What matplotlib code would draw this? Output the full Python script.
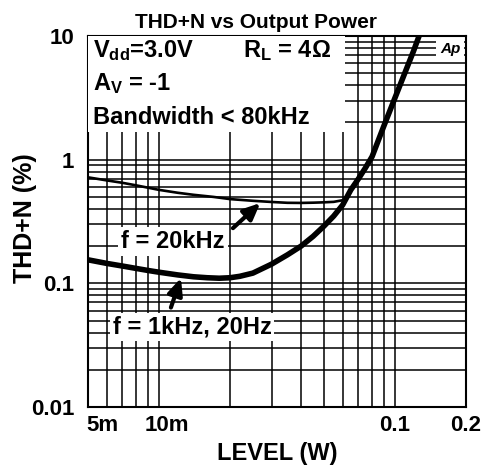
import matplotlib
matplotlib.use("Agg")
import matplotlib.pyplot as plt
import matplotlib.transforms as mtransforms
from matplotlib.patches import Rectangle
from matplotlib.ticker import FixedLocator, LogLocator, NullFormatter

plt.rcParams['font.family'] = ['Liberation Sans', 'DejaVu Sans']
plt.rcParams['font.weight'] = 'bold'
plt.rcParams['mathtext.fontset'] = 'custom'
plt.rcParams['mathtext.rm'] = 'Liberation Sans'
plt.rcParams['mathtext.bf'] = 'Liberation Sans:bold'

# curve for f = 1kHz, 20Hz (thick)
level_1k = [0.005, 0.006, 0.007, 0.008, 0.009, 0.01, 0.012, 0.014, 0.016, 0.018,
            0.02, 0.022, 0.025, 0.03, 0.035, 0.04, 0.045, 0.05, 0.055, 0.06,
            0.065, 0.07, 0.075, 0.08, 0.09, 0.1, 0.11, 0.12, 0.127]
thd_1k = [0.155, 0.145, 0.138, 0.132, 0.127, 0.123, 0.117, 0.113, 0.111, 0.110,
          0.111, 0.114, 0.121, 0.143, 0.170, 0.20, 0.24, 0.29, 0.35, 0.43,
          0.57, 0.70, 0.86, 1.06, 1.9, 3.16, 5.0, 7.6, 10.2]

# curve for f = 20kHz (thin)
level_20k = [0.005, 0.006, 0.007, 0.008, 0.01, 0.012, 0.014, 0.017, 0.02, 0.025,
             0.03, 0.035, 0.04, 0.045, 0.05, 0.055, 0.06, 0.063, 0.065, 0.07]
thd_20k = [0.72, 0.68, 0.65, 0.62, 0.57, 0.54, 0.52, 0.50, 0.48, 0.465,
           0.455, 0.448, 0.447, 0.449, 0.452, 0.456, 0.47, 0.51, 0.57, 0.70]

x_ticks = [0.005, 0.01, 0.1, 0.2]
x_labels = ["5m", "10m", "0.1", "0.2"]
y_ticks = [0.01, 0.1, 1, 10]
y_labels = ["0.01", "0.1", "1", "10"]

fig = plt.figure(figsize=(4.84, 4.69), dpi=100)
ax = fig.add_axes([0.1818, 0.1322, 0.781, 0.791])
ax.set_xscale('log')
ax.set_yscale('log')
ax.set_xlim(0.005, 0.2)
ax.set_ylim(0.01, 10)

ax.xaxis.set_major_locator(FixedLocator(x_ticks))
ax.xaxis.set_minor_locator(LogLocator(base=10, subs=range(2, 10)))
ax.yaxis.set_major_locator(FixedLocator(y_ticks))
ax.yaxis.set_minor_locator(LogLocator(base=10, subs=range(2, 10)))
ax.xaxis.set_minor_formatter(NullFormatter())
ax.yaxis.set_minor_formatter(NullFormatter())
ax.set_xticklabels(x_labels, fontsize=16, fontweight='bold')
ax.set_yticklabels(y_labels, fontsize=16, fontweight='bold')
ax.tick_params(which='both', length=0)
ax.tick_params(axis='x', pad=6)
ax.tick_params(axis='y', pad=10)

# nudge the 5m / 10m labels to the right like the original
for lab, dx in zip(ax.get_xticklabels(), [14, 8, 0, 0]):
    lab.set_transform(lab.get_transform() +
                      mtransforms.ScaledTranslation(dx / 100, 0, fig.dpi_scale_trans))

ax.grid(which='both', color='black', linewidth=1.1)
ax.set_axisbelow(True)
for s in ax.spines.values():
    s.set_linewidth(1.5)

ax.plot(level_20k, thd_20k, color='black', linewidth=1.9, zorder=3)
ax.plot(level_1k, thd_1k, color='black', linewidth=4.0, zorder=3,
        solid_capstyle='butt')

# white block behind the condition text
ax.add_patch(Rectangle((0, 0.741), 0.68, 0.259, transform=ax.transAxes,
                       facecolor='white', edgecolor='none', zorder=4))

ax.text(0.013, 0.962, r'$\mathbf{V_{dd}}$=3.0V', transform=ax.transAxes,
        fontsize=17, fontweight='bold', va='center', ha='left', zorder=5)
ax.text(0.013, 0.871, r'$\mathbf{A_{V}}$ = -1', transform=ax.transAxes,
        fontsize=17, fontweight='bold', va='center', ha='left', zorder=5)
ax.text(0.013, 0.781, 'Bandwidth < 80kHz', transform=ax.transAxes,
        fontsize=17, fontweight='bold', va='center', ha='left', zorder=5)
ax.text(0.41, 0.962, r'$\mathbf{R_{L}}$ = 4Ω', transform=ax.transAxes,
        fontsize=17, fontweight='bold', va='center', ha='left', zorder=5)
ax.text(0.985, 0.965, 'Ap', transform=ax.transAxes, fontsize=11,
        fontstyle='italic', fontweight='bold', va='center', ha='right', zorder=5,
        bbox=dict(facecolor='white', edgecolor='none', pad=3))

arrow_style = '-|>,head_length=1.0,head_width=0.45'
ax.annotate('', xy=(0.0274, 0.462), xytext=(0.378, 0.477),
            textcoords='axes fraction',
            arrowprops=dict(arrowstyle=arrow_style, color='black', lw=3),
            zorder=5)
ax.annotate('', xy=(0.0125, 0.116), xytext=(0.217, 0.261),
            textcoords='axes fraction',
            arrowprops=dict(arrowstyle=arrow_style, color='black', lw=3),
            zorder=5)

ax.text(0.225, 0.447, 'f = 20kHz', transform=ax.transAxes, fontsize=17,
        fontweight='bold', va='center', ha='center', zorder=6,
        bbox=dict(facecolor='white', edgecolor='none', pad=2))
ax.text(0.275, 0.216, 'f = 1kHz, 20Hz', transform=ax.transAxes, fontsize=17,
        fontweight='bold', va='center', ha='center', zorder=6,
        bbox=dict(facecolor='white', edgecolor='none', pad=2))

ax.set_title('THD+N vs Output Power', fontsize=15, fontweight='bold', pad=6,
             x=0.444)
ax.set_xlabel('LEVEL (W)', fontsize=17, fontweight='bold', labelpad=4)
ax.set_ylabel('THD+N (%)', fontsize=18, fontweight='bold')
ax.yaxis.set_label_coords(-0.135, 0.51)

fig.savefig('out.png', dpi=100)
